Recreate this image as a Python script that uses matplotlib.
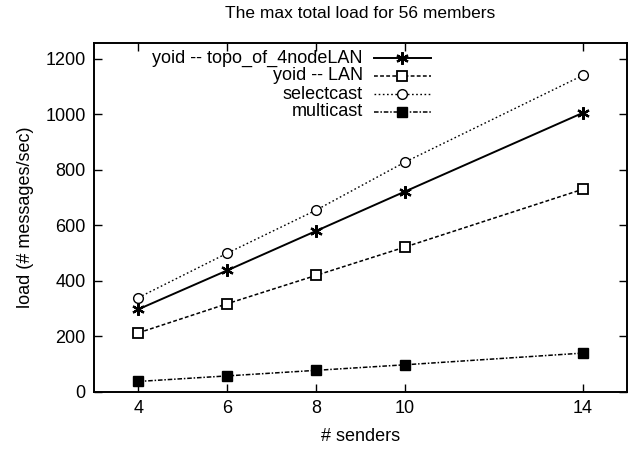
import matplotlib
matplotlib.use("Agg")
import matplotlib.pyplot as plt
from matplotlib.lines import Line2D

plt.rcParams['font.family'] = ['Liberation Sans', 'DejaVu Sans']

senders = [4, 6, 8, 10, 14]
series_names = ["yoid -- topo_of_4nodeLAN", "yoid -- LAN", "selectcast", "multicast"]
yoid_topo = [298, 438, 580, 722, 1005]
yoid_lan = [213, 318, 420, 522, 730]
selectcast = [340, 500, 655, 828, 1140]
multicast = [38, 58, 78, 98, 140]
yticks = [0, 200, 400, 600, 800, 1000, 1200]
title = "The max total load for 56 members"
xlabel = "# senders"
ylabel = "load (# messages/sec)"

fig = plt.figure(figsize=(6.32, 4.51), dpi=100)
ax = fig.add_axes([94/632, (451-392)/451, (627-94)/632, (392-43)/451])

styles = [
    dict(ls='-', marker=(6, 2, 0), ms=9, mfc='black', mew=1.6, lw=1.4),
    dict(ls=(0, (2.5, 1.5)), marker='s', ms=7, mfc='white', mew=1.3, lw=1.1),
    dict(ls=(0, (1.2, 1.8)), marker='o', ms=7, mfc='white', mew=1.0, lw=1.0),
    dict(ls=(0, (3, 1.2, 1, 1.2)), marker='s', ms=7, mfc='black', mew=1.0, lw=1.1),
]
data = [yoid_topo, yoid_lan, selectcast, multicast]
for name, vals, st in zip(series_names, data, styles):
    ax.plot(senders, vals, color='black', mec='black', label=name, **st)

ax.set_xlim(3, 15)
ax.set_ylim(0, 1257)
ax.set_xticks(senders)
ax.set_yticks(yticks)
ax.tick_params(direction='in', length=6, width=1, labelsize=13, pad=6,
               top=True, right=True)
for s in ax.spines.values():
    s.set_linewidth(1.4)

fig.text(360/632, 1 - 14/451, title, ha='center', va='center', fontsize=12.5)
ax.set_xlabel(xlabel, fontsize=13, labelpad=8)
ax.set_ylabel(ylabel, fontsize=13, labelpad=8)

# legend drawn gnuplot-style: right-aligned text, samples to the right
ys = [58, 76, 94, 112]
text_right = 363 / 632
x0, x1 = 374 / 632, 431 / 632
for name, st, yp in zip(series_names, styles, ys):
    yf = 1 - yp / 451
    fig.text(text_right, yf, name, ha='right', va='center', fontsize=13)
    fig.add_artist(Line2D([x0, x1], [yf, yf], color='black', ls=st['ls'], lw=st['lw'],
                          transform=fig.transFigure))
    fig.add_artist(Line2D([(x0 + x1) / 2], [yf], color='black', ls='none',
                          marker=st['marker'], ms=st['ms'], mfc=st['mfc'], mec='black',
                          mew=st['mew'], transform=fig.transFigure))

fig.savefig("out.png", dpi=100)
